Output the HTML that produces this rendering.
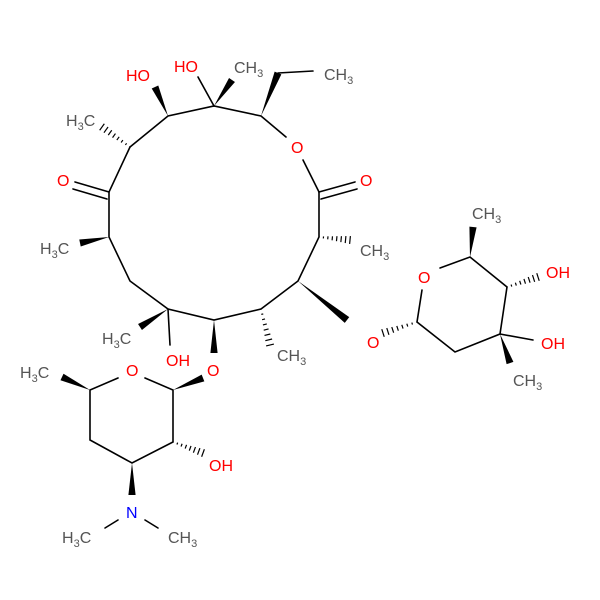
<!DOCTYPE html>
<html><head><meta charset="utf-8"><style>
html,body{margin:0;padding:0;background:#fff;}
svg{display:block;}
text{font-family:"Liberation Sans",sans-serif;font-size:16px;}
.c{fill:#555;} .o{fill:#f00;} .n{fill:#00f;}
.s{font-size:11px;}
</style></head><body>
<svg id="m" width="600" height="600" viewBox="0 0 600 600" xmlns="http://www.w3.org/2000/svg">
<g stroke="#000" stroke-width="1.6" fill="none" stroke-linecap="round">
<polyline points="130,147 168,116 214,106 261,116 286,137"/>
<line x1="303" y1="160" x2="319" y2="192"/>
<polyline points="319,192 319,237 298,281 261,309 214,320 168,309 130,281 109,237 109,192 130,147"/>
<line x1="319" y1="192" x2="355" y2="182"/><line x1="321" y1="199" x2="357" y2="189"/>
<line x1="109" y1="192" x2="75" y2="182"/><line x1="107" y1="199" x2="73" y2="189"/>
<line x1="214" y1="106" x2="198" y2="77"/>
<line x1="278" y1="73" x2="313" y2="71"/>
<line x1="168" y1="309" x2="170" y2="345"/>
<polyline points="440,268 470,257 507,287 500,334 455,352 417,322 422,290"/>
<line x1="500" y1="334" x2="533" y2="340"/>
<polyline points="118,378 90,390 90,440 132,463 173,442 173,390 145,378"/>
<line x1="118" y1="520" x2="105" y2="528"/><line x1="145" y1="520" x2="158" y2="528"/>
</g>
<g id="st"></g>
<text class="o" x="126" y="81">HO</text>
<text class="o" x="174" y="72">HO</text>
<text class="c" x="234" y="73">CH<tspan class="s" dy="4">3</tspan></text>
<text class="c" x="324" y="80">CH<tspan class="s" dy="4">3</tspan></text>
<text class="c" x="66" y="126">H<tspan class="s" dy="4">3</tspan><tspan dy="-4">C</tspan></text>
<text class="o" x="57" y="186">O</text>
<text class="o" x="291" y="153">O</text>
<text class="o" x="360" y="186">O</text>
<text class="c" x="40" y="254">H<tspan class="s" dy="4">3</tspan><tspan dy="-4">C</tspan></text>
<text class="c" x="360" y="256">CH<tspan class="s" dy="4">3</tspan></text>
<text class="c" x="277" y="361">CH<tspan class="s" dy="4">3</tspan></text>
<text class="c" x="102" y="344">H<tspan class="s" dy="4">3</tspan><tspan dy="-4">C</tspan></text>
<text class="o" x="166" y="366">OH</text>
<text class="o" x="207" y="376">O</text>
<text class="o" x="126" y="376">O</text>
<text class="c" x="20" y="378">H<tspan class="s" dy="4">3</tspan><tspan dy="-4">C</tspan></text>
<text class="o" x="209" y="471">OH</text>
<text class="n" x="126" y="518">N</text>
<text class="c" x="62" y="543">H<tspan class="s" dy="4">3</tspan><tspan dy="-4">C</tspan></text>
<text class="c" x="168" y="543">CH<tspan class="s" dy="4">3</tspan></text>
<text class="o" x="418" y="283">O</text>
<text class="c" x="472" y="219">CH<tspan class="s" dy="4">3</tspan></text>
<text class="o" x="546" y="278">OH</text>
<text class="o" x="541" y="349">OH</text>
<text class="c" x="513" y="386">CH<tspan class="s" dy="4">3</tspan></text>
<text class="o" x="367" y="348">O</text>
</svg>
<script>
var g=document.getElementById('st'),NS='http://www.w3.org/2000/svg';
function perp(a,b,w){var dx=b[0]-a[0],dy=b[1]-a[1],l=Math.hypot(dx,dy);return [-dy/l*w,dx/l*w];}
function wedge(a,b){var p=perp(a,b,3.6);var e=document.createElementNS(NS,'polygon');
e.setAttribute('points',a[0]+','+a[1]+' '+(b[0]+p[0])+','+(b[1]+p[1])+' '+(b[0]-p[0])+','+(b[1]-p[1]));e.setAttribute('fill','#000');g.appendChild(e);}
function hash(a,b){var n=7;for(var i=0;i<=n;i++){var t=i/n,x=a[0]+(b[0]-a[0])*t,y=a[1]+(b[1]-a[1])*t;var p=perp(a,b,0.5+3.5*t);
var e=document.createElementNS(NS,'line');e.setAttribute('x1',x+p[0]);e.setAttribute('y1',y+p[1]);e.setAttribute('x2',x-p[0]);e.setAttribute('y2',y-p[1]);e.setAttribute('stroke','#000');e.setAttribute('stroke-width','1.2');g.appendChild(e);}}
[[[130,147],[102,127]],[[319,237],[350,240]],[[261,309],[270,345]],[[507,287],[538,277]],[[417,322],[383,333]],[[173,442],[203,453]]].forEach(function(x){hash(x[0],x[1]);});
[[[168,116],[155,87]],[[214,106],[232,80]],[[261,116],[278,73]],[[298,281],[347,320]],[[214,320],[214,353]],[[168,309],[140,327]],[[109,237],[80,243]],[[470,257],[473,227]],[[500,334],[510,363]],[[173,390],[203,378]],[[132,463],[132,495]],[[90,390],[62,377]]].forEach(function(x){wedge(x[0],x[1]);});
</script>
</body></html>
